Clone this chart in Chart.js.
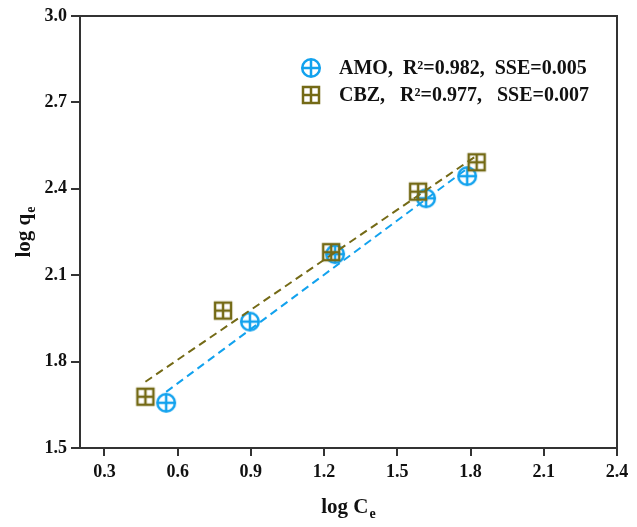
<!DOCTYPE html>
<html>
<head>
<meta charset="utf-8">
<script src="https://cdn.jsdelivr.net/npm/chart.js@4.4.1/dist/chart.umd.min.js"></script>
<style>
  html, body { margin: 0; padding: 0; background: #fff; }
  #wrap { width: 637px; height: 527px; position: relative; }
</style>
</head>
<body>
<div id="wrap"><canvas id="isoChart"></canvas></div>
<script>
// values
const amoX = [0.553, 0.896, 1.245, 1.618, 1.786];
const amoY = [1.657, 1.939, 2.173, 2.367, 2.444];
const cbzX = [0.468, 0.786, 1.229, 1.585, 1.825];
const cbzY = [1.678, 1.977, 2.180, 2.390, 2.492];
// ends of the dashed fit lines
const amoFitX = [0.553, 1.786];
const amoFitY = [1.695, 2.470];
const cbzFitX = [0.468, 1.825];
const cbzFitY = [1.730, 2.515];

const xTicks = [0.3, 0.6, 0.9, 1.2, 1.5, 1.8, 2.1, 2.4];
const yTicks = [1.5, 1.8, 2.1, 2.4, 2.7, 3.0];
const legendLabels = ['AMO,  R\u00b2=0.982,  SSE=0.005', 'CBZ,   R\u00b2=0.977,   SSE=0.007'];

const blue = '#12a2ee';
const olive = '#746a16';
const axisColor = '#333333';
const serif = '"Liberation Serif", "Times New Roman", serif';

function toPoints(xs, ys) {
    return xs.map((x, i) => ({ x: x, y: ys[i] }));
}

function circlePlus(color) {
    const c = document.createElement('canvas');
    c.width = 24; c.height = 24;
    const g = c.getContext('2d');
    g.strokeStyle = color;
    g.lineWidth = 2.5;
    g.beginPath();
    g.arc(12, 12, 8.8, 0, Math.PI * 2);
    g.moveTo(12, 3.2); g.lineTo(12, 20.8);
    g.moveTo(3.2, 12); g.lineTo(20.8, 12);
    g.stroke();
    return c;
}

function squarePlus(color) {
    const c = document.createElement('canvas');
    c.width = 22; c.height = 22;
    const g = c.getContext('2d');
    g.strokeStyle = color;
    g.lineWidth = 2.5;
    g.strokeRect(3, 3, 16, 16);
    g.beginPath();
    g.moveTo(11, 3); g.lineTo(11, 19);
    g.moveTo(3, 11); g.lineTo(19, 11);
    g.stroke();
    return c;
}

const amoMark = circlePlus(blue);
const cbzMark = squarePlus(olive);

// draws text with a lowered small "e" after it, centred on cx
function subText(ctx, main, sub, cx, y, big, small, drop) {
    ctx.font = 'bold ' + big + 'px ' + serif;
    const w1 = ctx.measureText(main).width;
    ctx.font = 'bold ' + small + 'px ' + serif;
    const w2 = ctx.measureText(sub).width;
    const x0 = cx - (w1 + w2 + 1) / 2;
    ctx.font = 'bold ' + big + 'px ' + serif;
    ctx.fillText(main, x0, y);
    ctx.font = 'bold ' + small + 'px ' + serif;
    ctx.fillText(sub, x0 + w1 + 1, y + drop);
}

// frame, axis titles and the inside legend
const extras = {
    id: 'extras',
    afterDatasetsDraw(chart) {
        const { ctx, chartArea: a } = chart;
        ctx.save();
        ctx.strokeStyle = axisColor;
        ctx.lineWidth = 2;
        ctx.strokeRect(a.left, a.top, a.right - a.left, a.bottom - a.top);

        // legend
        const marks = [amoMark, cbzMark];
        ctx.fillStyle = '#111';
        ctx.font = 'bold 20px ' + serif;
        ctx.textBaseline = 'middle';
        legendLabels.forEach((t, i) => {
            const y = a.top + 52 + i * 27;
            const m = marks[i];
            ctx.drawImage(m, a.left + 231 - m.width / 2, y - m.height / 2);
            ctx.fillText(t, a.left + 259, y + 1);
        });

        ctx.textBaseline = 'alphabetic';
        subText(ctx, 'log C', 'e', (a.left + a.right) / 2, 513, 21, 14, 5);

        ctx.translate(30, (a.top + a.bottom) / 2);
        ctx.rotate(-Math.PI / 2);
        subText(ctx, 'log q', 'e', 0, 0, 21, 14, 5);
        ctx.restore();
    }
};

Chart.defaults.font.family = serif;
Chart.defaults.font.weight = 'bold';
Chart.defaults.color = '#111';

const ctx = document.getElementById('isoChart').getContext('2d');
const isoChart = new Chart(ctx, {
    type: 'scatter',
    data: {
        datasets: [
            {
                type: 'line',
                label: 'AMO fit',
                data: toPoints(amoFitX, amoFitY),
                borderColor: blue,
                borderWidth: 2,
                borderDash: [8, 5],
                pointRadius: 0,
                fill: false
            },
            {
                type: 'line',
                label: 'CBZ fit',
                data: toPoints(cbzFitX, cbzFitY),
                borderColor: olive,
                borderWidth: 2,
                borderDash: [8, 5],
                pointRadius: 0,
                fill: false
            },
            {
                label: 'CBZ',
                data: toPoints(cbzX, cbzY),
                pointStyle: cbzMark,
                borderColor: olive
            },
            {
                label: 'AMO',
                data: toPoints(amoX, amoY),
                pointStyle: amoMark,
                borderColor: blue
            }
        ]
    },
    options: {
        responsive: true,
        maintainAspectRatio: false,
        animation: false,
        layout: { padding: { top: 16, right: 20, left: 0, bottom: 0 } },
        plugins: {
            legend: { display: false },
            tooltip: { enabled: false }
        },
        scales: {
            x: {
                type: 'linear',
                min: 0.2,
                max: 2.4,
                afterBuildTicks: s => { s.ticks = xTicks.map(v => ({ value: v })); },
                afterFit: s => { s.height = 79; },
                grid: { drawOnChartArea: false, drawTicks: true, tickLength: 8, color: axisColor, lineWidth: 2 },
                border: { display: true, color: axisColor, width: 2 },
                ticks: {
                    font: { size: 18, weight: 'bold' },
                    color: '#111',
                    padding: 6,
                    maxRotation: 0,
                    callback: v => v.toFixed(1)
                }
            },
            y: {
                type: 'linear',
                min: 1.5,
                max: 3.0,
                afterBuildTicks: s => { s.ticks = yTicks.map(v => ({ value: v })); },
                afterFit: s => { s.width = 80; },
                grid: { drawOnChartArea: false, drawTicks: true, tickLength: 9, color: axisColor, lineWidth: 2 },
                border: { display: true, color: axisColor, width: 2 },
                ticks: {
                    font: { size: 18, weight: 'bold' },
                    color: '#111',
                    padding: 4,
                    callback: v => v.toFixed(1)
                }
            }
        }
    },
    plugins: [extras]
});
</script>
</body>
</html>
